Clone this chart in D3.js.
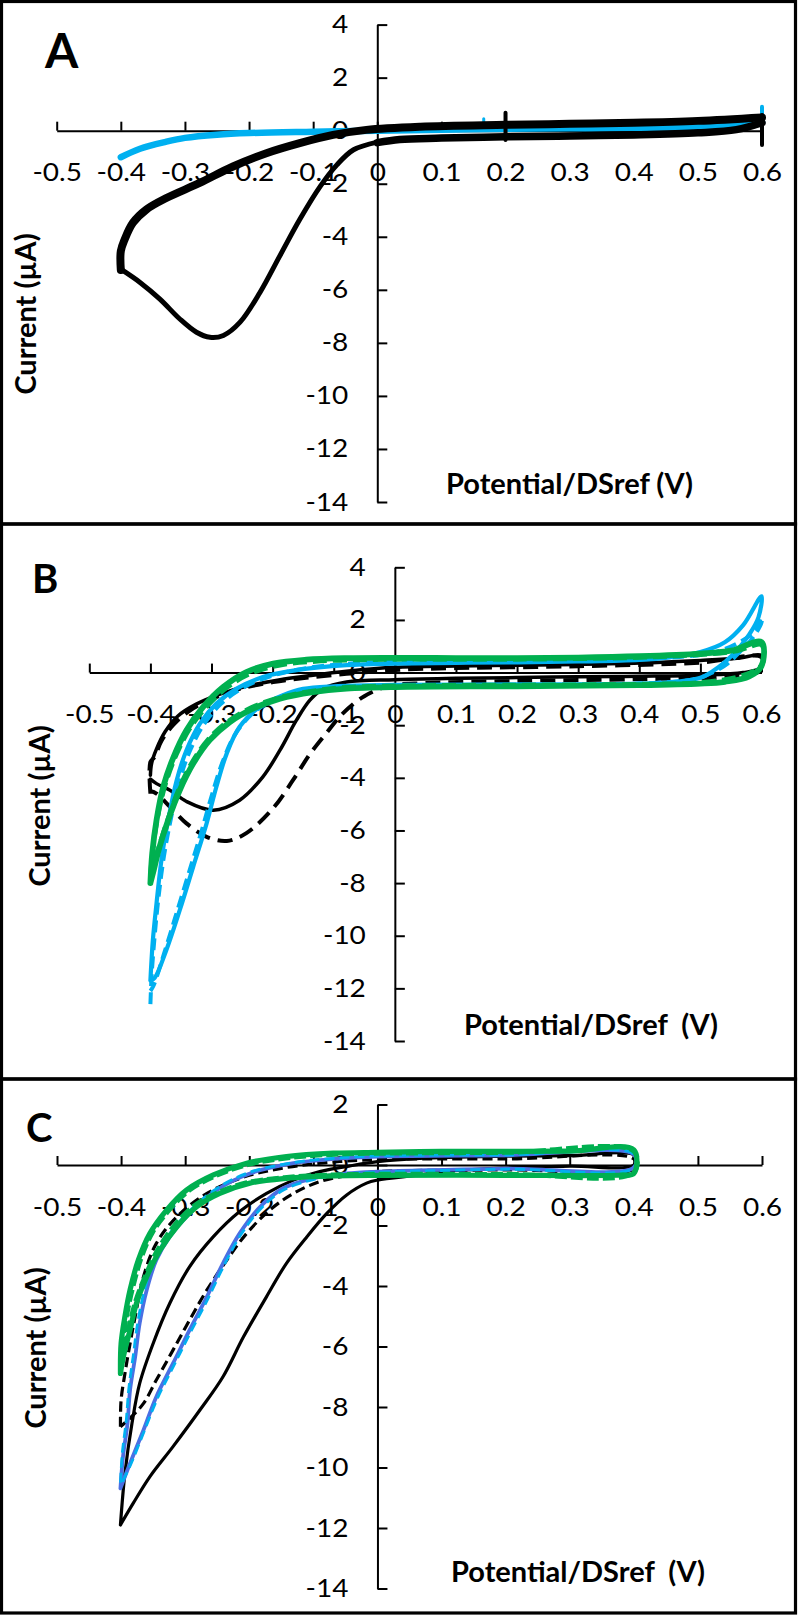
<!DOCTYPE html>
<html>
<head>
<meta charset="utf-8">
<script src="https://cdn.jsdelivr.net/npm/d3@7/dist/d3.min.js"></script>
<style>
  body { margin: 0; background: #fff; }
  svg { display: block; }
  .tick text { font-family: Lato, sans-serif; font-size: 25px; fill: #000; }
  .title { font-family: Lato, sans-serif; font-weight: bold; font-size: 29px; fill: #000; }
  .letter { font-family: Lato, sans-serif; font-weight: bold; fill: #000; }
</style>
</head>
<body>
<div id="chart"></div>
<script>
// tick values
const xTicks = [-0.5, -0.4, -0.3, -0.2, -0.1, 0, 0.1, 0.2, 0.3, 0.4, 0.5, 0.6];
const yTicksAB = [-14, -12, -10, -8, -6, -4, -2, 0, 2, 4];
const yTicksC = [-14, -12, -10, -8, -6, -4, -2, 0, 2];

// ---- panel A : [potential V, current uA]
const aBlue = [[-0.4,-1.0],[-0.37,-0.68],[-0.33,-0.42],[-0.3,-0.27],[-0.25,-0.15],[-0.2,-0.09],[-0.1,-0.04],
  [0,0.0],[0.1,0.04],[0.2,0.07],[0.3,0.09],[0.4,0.11],[0.5,0.15],[0.56,0.22],[0.6,0.33]];
const aBlueTip = [[0.6,0.3],[0.6,0.9]];
const aBlueBlip = [[0.166,0.12],[0.166,0.45]];
const aBlackUpper = [[-0.4,-5.25],[-0.4,-4.54],[-0.394,-4.10],[-0.381,-3.47],[-0.36,-2.97],[-0.329,-2.54],
  [-0.277,-1.97],[-0.225,-1.35],[-0.173,-0.85],[-0.121,-0.47],[-0.069,-0.16],[-0.017,0.03],[0.067,0.15],
  [0.2,0.22],[0.3,0.26],[0.4,0.3],[0.5,0.37],[0.6,0.5]];
const aBlackFlat = [[0,-0.45],[0.035,-0.33],[0.1,-0.28],[0.2,-0.23],[0.3,-0.2],[0.4,-0.16],[0.5,-0.08],
  [0.56,0.04],[0.6,0.3]];
const aBlackPeak = [[0.035,-0.33],[0,-0.43],[-0.037,-0.72],[-0.063,-1.29],[-0.089,-2.10],[-0.121,-3.35],
  [-0.152,-4.72],[-0.183,-6.10],[-0.214,-7.22],[-0.240,-7.72],[-0.261,-7.79],[-0.282,-7.60],[-0.308,-7.10],
  [-0.339,-6.35],[-0.370,-5.72],[-0.4,-5.22]];
const aBlackMark1 = [[0.2,0.68],[0.2,-0.35]];
const aBlackMark2 = [[0.6,0.59],[0.6,-0.54]];

// ---- panel B
const bBlackSolid = [[-0.4,-3.9],[-0.398,-3.45],[-0.39,-2.9],[-0.376,-2.25],[-0.355,-1.65],[-0.325,-1.2],
  [-0.286,-0.82],[-0.243,-0.52],[-0.19,-0.28],[-0.134,-0.1],[-0.079,0.05],[0,0.2],[0.1,0.25],[0.2,0.28],
  [0.3,0.31],[0.4,0.36],[0.5,0.46],[0.56,0.54],[0.6,0.64],[0.6,0.2],[0.57,0.0],[0.5,-0.1],[0.4,-0.14],
  [0.3,-0.16],[0.2,-0.19],[0.1,-0.22],[0,-0.27],[-0.079,-0.36],[-0.117,-0.61],[-0.139,-1.05],[-0.161,-1.81],
  [-0.188,-2.95],[-0.216,-3.96],[-0.254,-4.85],[-0.297,-5.23],[-0.341,-4.9],[-0.368,-4.47],[-0.39,-4.22],
  [-0.4,-4.05]];
const bBlackDashed = [[-0.4,-4.6],[-0.4,-3.4],[-0.393,-3.2],[-0.382,-2.6],[-0.363,-2.0],[-0.336,-1.45],
  [-0.297,-0.98],[-0.254,-0.62],[-0.199,-0.36],[-0.145,-0.2],[-0.079,-0.05],[0,0.1],[0.1,0.17],[0.3,0.24],
  [0.5,0.38],[0.6,0.58],[0.6,0.1],[0.55,-0.15],[0.4,-0.25],[0.2,-0.32],[0.05,-0.4],[-0.008,-0.5],
  [-0.05,-0.9],[-0.085,-1.55],[-0.112,-2.3],[-0.139,-3.1],[-0.167,-4.1],[-0.199,-5.15],[-0.243,-6.1],
  [-0.275,-6.4],[-0.308,-6.24],[-0.341,-5.73],[-0.368,-5.1],[-0.39,-4.6],[-0.4,-4.5]];
const bBlueSolid = [[-0.4,-11.7],[-0.396,-10.17],[-0.39,-8.77],[-0.382,-7.13],[-0.371,-5.61],[-0.357,-4.09],
  [-0.341,-2.95],[-0.319,-1.94],[-0.292,-1.18],[-0.259,-0.61],[-0.216,-0.17],[-0.161,0.09],[-0.079,0.28],
  [0,0.34],[0.1,0.37],[0.2,0.39],[0.3,0.42],[0.4,0.48],[0.45,0.58],[0.5,0.78],[0.54,1.15],[0.57,1.8],
  [0.6,2.9],[0.595,2.1],[0.58,1.45],[0.56,0.85],[0.54,0.4],[0.52,0.05],[0.5,-0.2],[0.46,-0.35],[0.4,-0.42],
  [0.2,-0.45],[0,-0.47],[-0.1,-0.52],[-0.15,-0.62],[-0.183,-0.86],[-0.221,-1.30],[-0.254,-2.06],
  [-0.275,-3.07],[-0.292,-4.34],[-0.308,-5.73],[-0.330,-7.38],[-0.352,-9.03],[-0.374,-10.55],
  [-0.393,-11.6],[-0.4,-11.7]];
const bBlueDashed = [[-0.4,-12.6],[-0.398,-11.5],[-0.393,-10.0],[-0.387,-8.6],[-0.378,-7.0],[-0.366,-5.5],
  [-0.351,-4.0],[-0.334,-2.9],[-0.312,-1.95],[-0.285,-1.2],[-0.25,-0.6],[-0.205,-0.15],[-0.15,0.15],
  [-0.079,0.33],[0,0.41],[0.1,0.44],[0.2,0.46],[0.3,0.48],[0.4,0.52],[0.47,0.6],[0.52,0.75],[0.56,1.1],
  [0.59,1.6],[0.6,2.1],[0.6,1.9],[0.585,1.3],[0.565,0.8],[0.545,0.35],[0.52,0.0],[0.49,-0.25],[0.4,-0.42],
  [0.2,-0.48],[0,-0.52],[-0.1,-0.56],[-0.16,-0.72],[-0.195,-1.0],[-0.23,-1.5],[-0.26,-2.3],[-0.282,-3.4],
  [-0.3,-4.7],[-0.316,-6.0],[-0.337,-7.6],[-0.358,-9.2],[-0.378,-10.7],[-0.395,-11.9],[-0.4,-12.1]];
const bGreenSolid = [[-0.4,-8.0],[-0.397,-6.87],[-0.39,-5.61],[-0.379,-4.34],[-0.362,-3.2],[-0.341,-2.19],
  [-0.314,-1.31],[-0.281,-0.55],[-0.243,0.02],[-0.199,0.34],[-0.145,0.49],[-0.079,0.55],[0,0.56],[0.1,0.55],
  [0.2,0.55],[0.3,0.57],[0.4,0.62],[0.5,0.72],[0.55,0.83],[0.6,1.16],[0.6,0.25],[0.58,-0.15],[0.54,-0.35],
  [0.5,-0.42],[0.4,-0.48],[0.2,-0.52],[0,-0.55],[-0.079,-0.61],[-0.134,-0.74],[-0.188,-0.99],[-0.232,-1.37],
  [-0.27,-1.88],[-0.303,-2.57],[-0.33,-3.46],[-0.352,-4.47],[-0.371,-5.61],[-0.385,-6.62],[-0.396,-7.64],
  [-0.4,-8.0]];
const bGreenDashed = [[-0.4,-7.7],[-0.396,-6.7],[-0.388,-5.5],[-0.376,-4.3],[-0.358,-3.15],[-0.336,-2.15],
  [-0.308,-1.3],[-0.275,-0.58],[-0.237,-0.05],[-0.19,0.27],[-0.13,0.42],[-0.06,0.48],[0,0.5],[0.2,0.5],
  [0.4,0.57],[0.5,0.68],[0.56,0.82],[0.6,1.05],[0.6,0.3],[0.57,-0.1],[0.5,-0.37],[0.4,-0.44],[0.2,-0.47],
  [0,-0.5],[-0.08,-0.56],[-0.135,-0.7],[-0.19,-0.95],[-0.235,-1.33],[-0.273,-1.85],[-0.306,-2.55],
  [-0.333,-3.45],[-0.354,-4.45],[-0.372,-5.6],[-0.386,-6.6],[-0.396,-7.4]];

// ---- panel C
const cBlackSolid = [[-0.401,-11.9],[-0.394,-10.19],[-0.383,-8.54],[-0.371,-7.22],[-0.35,-5.9],[-0.324,-4.57],
  [-0.293,-3.36],[-0.256,-2.37],[-0.215,-1.54],[-0.173,-0.94],[-0.131,-0.5],[-0.09,-0.22],[-0.043,-0.03],
  [0,0.11],[0.066,0.22],[0.2,0.29],[0.3,0.31],[0.4,0.33],[0.4,0.0],[0.3,-0.04],[0.2,-0.1],[0.1,-0.22],
  [0.066,-0.33],[0,-0.5],[-0.017,-0.6],[-0.048,-0.99],[-0.079,-1.6],[-0.11,-2.37],[-0.142,-3.25],
  [-0.173,-4.35],[-0.209,-5.68],[-0.241,-7.0],[-0.277,-8.1],[-0.319,-9.31],[-0.355,-10.3],[-0.381,-11.18],
  [-0.401,-11.9]];
const cBlackDashed = [[-0.401,-8.65],[-0.4,-7.77],[-0.394,-6.89],[-0.386,-5.9],[-0.378,-5.01],[-0.365,-3.69],
  [-0.345,-2.59],[-0.313,-1.71],[-0.266,-0.94],[-0.209,-0.4],[-0.147,-0.1],[-0.079,0.08],[0,0.18],[0.2,0.2],
  [0.4,0.2],[0.4,-0.12],[0.2,-0.16],[0,-0.22],[-0.043,-0.33],[-0.09,-0.55],[-0.131,-0.94],[-0.168,-1.49],
  [-0.204,-2.26],[-0.235,-3.14],[-0.266,-4.13],[-0.293,-5.12],[-0.319,-6.12],[-0.345,-7.11],[-0.365,-7.88],
  [-0.386,-8.37],[-0.401,-8.65]];
const cBlueSolid = [[-0.401,-10.69],[-0.397,-9.64],[-0.39,-8.54],[-0.386,-7.44],[-0.378,-6.34],[-0.371,-5.23],
  [-0.36,-4.13],[-0.345,-3.14],[-0.324,-2.37],[-0.293,-1.6],[-0.251,-0.83],[-0.199,-0.28],[-0.131,0.06],
  [-0.069,0.2],[0,0.28],[0.2,0.32],[0.4,0.35],[0.4,-0.08],[0.2,-0.12],[0,-0.22],[-0.048,-0.28],[-0.1,-0.44],
  [-0.147,-0.77],[-0.183,-1.38],[-0.215,-2.26],[-0.241,-3.25],[-0.266,-4.35],[-0.293,-5.45],[-0.319,-6.56],
  [-0.345,-7.66],[-0.365,-8.76],[-0.386,-9.86],[-0.401,-10.69]];
const cBlueDashed = [[-0.401,-10.5],[-0.398,-9.5],[-0.392,-8.45],[-0.388,-7.4],[-0.381,-6.3],[-0.374,-5.2],
  [-0.363,-4.1],[-0.348,-3.12],[-0.327,-2.35],[-0.296,-1.58],[-0.254,-0.82],[-0.202,-0.26],[-0.131,0.08],
  [-0.069,0.22],[0,0.3],[0.2,0.33],[0.4,0.36],[0.4,-0.1],[0.2,-0.14],[0,-0.24],[-0.05,-0.3],[-0.1,-0.48],
  [-0.146,-0.82],[-0.181,-1.42],[-0.213,-2.3],[-0.239,-3.3],[-0.264,-4.4],[-0.291,-5.5],[-0.317,-6.6],
  [-0.343,-7.7],[-0.364,-8.8],[-0.385,-9.9],[-0.401,-10.6]];
const cGreenSolid = [[-0.401,-6.89],[-0.4,-5.9],[-0.394,-5.01],[-0.386,-4.13],[-0.373,-3.14],[-0.355,-2.26],
  [-0.329,-1.49],[-0.298,-0.83],[-0.256,-0.33],[-0.204,0.06],[-0.142,0.28],[-0.069,0.39],[0,0.42],[0.1,0.45],
  [0.2,0.45],[0.3,0.46],[0.4,0.5],[0.4,-0.28],[0.38,-0.33],[0.2,-0.34],[0,-0.34],[-0.069,-0.36],
  [-0.142,-0.44],[-0.199,-0.6],[-0.246,-0.94],[-0.282,-1.38],[-0.313,-2.04],[-0.339,-2.81],[-0.36,-3.69],
  [-0.376,-4.57],[-0.386,-5.45],[-0.396,-6.3],[-0.401,-6.89]];
const cGreenDashed = [[-0.4,-6.6],[-0.397,-5.7],[-0.39,-4.85],[-0.381,-4.0],[-0.368,-3.05],[-0.35,-2.2],
  [-0.323,-1.45],[-0.292,-0.82],[-0.25,-0.34],[-0.198,0.03],[-0.136,0.24],[-0.065,0.35],[0,0.38],[0.2,0.41],
  [0.4,0.45],[0.4,-0.25],[0.2,-0.3],[0,-0.3],[-0.07,-0.32],[-0.145,-0.41],[-0.204,-0.58],[-0.25,-0.92],
  [-0.287,-1.36],[-0.318,-2.02],[-0.343,-2.8],[-0.363,-3.7],[-0.379,-4.6],[-0.389,-5.5],[-0.397,-6.3]];

// colours
const lightBlue = "#00b0f0";
const royalBlue = "#4a6fe3";
const green = "#00b050";
const black = "#000";

// panel layout
let panels = [
  {
    letter: "A", letterX: 45, letterY: 68, letterSize: 48,
    box: [1.5, 524],
    xRange: [56.7, 762], yDomain: [-14, 4], yRange: [502, 24.6], yTicks: yTicksAB,
    xTitle: "Potential/DSref (V)", xTitleX: 446, xTitleY: 494,
    yTitleX: 36, yTitleY: 314,
    series: [
      {data: aBlue, color: lightBlue, width: 6.5},
      {data: aBlueTip, color: lightBlue, width: 4},
      {data: aBlueBlip, color: lightBlue, width: 3},
      {data: aBlackPeak, color: black, width: 5},
      {data: aBlackUpper, color: black, width: 8},
      {data: aBlackFlat, color: black, width: 7.5},
      {data: aBlackMark1, color: black, width: 4},
      {data: aBlackMark2, color: black, width: 4}
    ]
  },
  {
    letter: "B", letterX: 32, letterY: 593, letterSize: 40,
    box: [524, 1079],
    xRange: [89.3, 761.5], yDomain: [-14, 4], yRange: [1041, 567.3], yTicks: yTicksAB,
    xTitle: "Potential/DSref  (V)", xTitleX: 464, xTitleY: 1035,
    yTitleX: 50, yTitleY: 806,
    series: [
      {data: bBlackSolid, color: black, width: 3.5},
      {data: bBlackDashed, color: black, width: 4, dash: "15 8"},
      {data: bBlueSolid, color: lightBlue, width: 4.2},
      {data: bBlueDashed, color: lightBlue, width: 4, dash: "12 6"},
      {data: bGreenSolid, color: green, width: 5.8},
      {data: bGreenDashed, color: green, width: 4.5, dash: "14 6"}
    ]
  },
  {
    letter: "C", letterX: 26, letterY: 1142, letterSize: 40,
    box: [1079, 1613],
    xRange: [57, 762], yDomain: [-14, 2], yRange: [1588.5, 1104.5], yTicks: yTicksC,
    xTitle: "Potential/DSref  (V)", xTitleX: 451, xTitleY: 1582,
    yTitleX: 46, yTitleY: 1348,
    series: [
      {data: cBlackSolid, color: black, width: 3.2},
      {data: cBlackDashed, color: black, width: 3.2, dash: "10 5"},
      {data: cBlueSolid, color: royalBlue, width: 3.8},
      {data: cBlueDashed, color: lightBlue, width: 2.8, dash: "10 5"},
      {data: cGreenSolid, color: green, width: 5.2},
      {data: cGreenDashed, color: green, width: 4.5, dash: "12 4"}
    ]
  }
];

let svg = d3.select("#chart")
  .append("svg")
  .attr("width", 800)
  .attr("height", 1616);

svg.append("rect")
  .attr("width", 800).attr("height", 1616).attr("fill", "#fff");

const xDomain = [-0.5, 0.6];
const labelScale = 1.12;

panels.forEach(p => {
  let x = d3.scaleLinear().domain(xDomain).range(p.xRange);
  let y = d3.scaleLinear().domain(p.yDomain).range(p.yRange);

  // frame
  svg.append("rect")
    .attr("x", 1.5).attr("y", p.box[0])
    .attr("width", 794).attr("height", p.box[1] - p.box[0])
    .attr("fill", "none").attr("stroke", "#000").attr("stroke-width", 3.2);

  let g = svg.append("g");

  // x axis crossing at zero current
  let xAxis = g.append("g")
    .attr("transform", `translate(0,${y(0)})`)
    .call(d3.axisBottom(x).tickValues(xTicks).tickSizeInner(-9).tickSizeOuter(0)
      .tickPadding(33).tickFormat(d => String(d)));

  // y axis crossing at zero potential
  let yAxis = g.append("g")
    .attr("transform", `translate(${x(0)},0)`)
    .call(d3.axisLeft(y).tickValues(p.yTicks).tickSizeInner(-10).tickSizeOuter(0)
      .tickPadding(29).tickFormat(d => String(d)));

  [xAxis, yAxis].forEach(a => {
    a.select(".domain").attr("stroke-width", 2);
    a.selectAll(".tick line").attr("stroke-width", 2);
    a.selectAll("text").attr("font-family", null).attr("font-size", null);
  });
  xAxis.selectAll("text").attr("transform", `scale(${labelScale},1)`);
  yAxis.selectAll("text")
    .attr("transform", `scale(${labelScale},1)`)
    .attr("x", -29 / labelScale);

  // curves
  let line = d3.line()
    .x(d => x(d[0]))
    .y(d => y(d[1]))
    .curve(d3.curveCatmullRom.alpha(0.5));

  p.series.forEach(s => {
    g.append("path")
      .datum(s.data)
      .attr("d", line)
      .attr("fill", "none")
      .attr("stroke", s.color)
      .attr("stroke-width", s.width)
      .attr("stroke-linejoin", "round")
      .attr("stroke-linecap", s.dash ? "butt" : "round")
      .attr("stroke-dasharray", s.dash || null);
  });

  // panel letter
  svg.append("text")
    .attr("class", "letter")
    .attr("x", p.letterX).attr("y", p.letterY)
    .attr("font-size", p.letterSize)
    .text(p.letter);

  // axis titles
  svg.append("text")
    .attr("class", "title")
    .attr("x", p.xTitleX).attr("y", p.xTitleY)
    .style("white-space", "pre")
    .text(p.xTitle);

  svg.append("text")
    .attr("class", "title")
    .attr("text-anchor", "middle")
    .attr("transform", `translate(${p.yTitleX},${p.yTitleY}) rotate(-90)`)
    .text("Current (µA)");
});
</script>
</body>
</html>
